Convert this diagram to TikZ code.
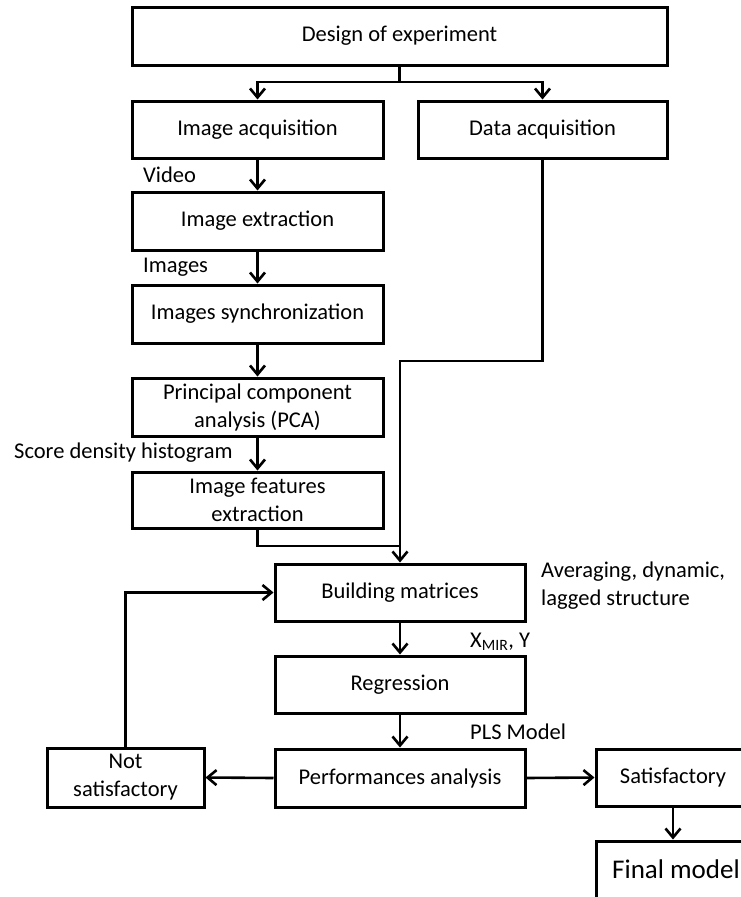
\documentclass[tikz,border=0pt]{standalone}
\usepackage{fontspec}
\setmainfont{Carlito}
\usetikzlibrary{arrows.meta}
\begin{document}
\begin{tikzpicture}[x=1pt,y=-1pt,
  box/.style={draw,line width=3pt,align=center,inner sep=0pt,
    font=\fontsize{22.5}{28}\selectfont},
  lbl/.style={anchor=west,inner sep=0pt,align=left,
    font=\fontsize{22.5}{28}\selectfont},
  conn/.style={line width=2.6pt},
  arr/.style={conn,-{Straight Barb[length=9pt,width=15pt,line width=2.6pt]}}]
\path[use as bounding box,clip] (0,0) rectangle (741,897);
\fill[white] (0,0) rectangle (741,897);
% boxes
\node[box,minimum width=535pt,minimum height=58pt] (design) at (399.5,36) {Design of experiment};
\node[box,minimum width=251pt,minimum height=57pt] (imgacq) at (257.5,129.5) {Image acquisition};
\node[box,minimum width=249pt,minimum height=57pt] (dataacq) at (542.5,129.5) {Data acquisition};
\node[box,minimum width=251pt,minimum height=58pt] (imgext) at (257.5,221) {Image extraction};
\node[box,minimum width=251pt,minimum height=58pt] (sync) at (257.5,314) {Images synchronization};
\node[box,minimum width=251pt,minimum height=58pt] (pca) at (257.5,407) {Principal component\\analysis (PCA)};
\node[box,minimum width=251pt,minimum height=56pt] (feat) at (257.5,500) {Image features\\extraction};
\node[box,minimum width=250pt,minimum height=57pt] (build) at (400,592.5) {Building matrices};
\node[box,minimum width=250pt,minimum height=57pt] (regr) at (400,684.5) {Regression};
\node[box,minimum width=250pt,minimum height=58pt] (perf) at (400,778) {Performances analysis};
\node[box,minimum width=157pt,minimum height=59pt] (notsat) at (125.5,777.5) {Not\\satisfactory};
\node[box,minimum width=154pt,minimum height=57pt] (sat) at (673,777.5) {Satisfactory};
\node[box,minimum width=160pt,minimum height=57pt,font=\fontsize{27}{32}\selectfont] (final) at (676,869.5) {Final model};
% labels
\node[lbl] (video) at (143,175) {Video};
\node[lbl] (images) at (143,267) {Images};
\node[lbl] (score) at (14,453) {Score density histogram};
\node[lbl,anchor=north west] (avg) at (541,562) {Averaging, dynamic,\\lagged structure};
\node[lbl] (xmir) at (470,642) {X\textsubscript{MIR}, Y};
\node[lbl] (pls) at (470,732) {PLS Model};
% helper coordinates
\coordinate (split) at (design.south |- 0,82);
\coordinate (dturn) at (dataacq.south |- 0,361);
\coordinate (join) at (design.south |- 0,546);
\coordinate (fback) at (notsat.north |- build.west);
\coordinate (fintop) at (sat.south |- final.north);
% connectors
\draw[conn] (design.south) -- (split);
\draw[arr] (split) -| (imgacq.north);
\draw[arr] (split) -| (dataacq.north);
\draw[arr] (imgacq) -- (imgext);
\draw[arr] (imgext) -- (sync);
\draw[arr] (sync) -- (pca);
\draw[arr] (pca) -- (feat);
\draw[arr] (dataacq.south) -- (dturn) -| (build.north);
\draw[conn] (feat.south) |- (join);
\draw[arr] (build) -- (regr);
\draw[arr] (regr) -- (perf);
\draw[arr] (perf.west) -- (notsat.east);
\draw[arr] (perf.east) -- (sat.west);
\draw[arr] (notsat.north) -- (fback) -- (build.west);
\draw[arr] (sat.south) -- (fintop);
\end{tikzpicture}
\end{document}
